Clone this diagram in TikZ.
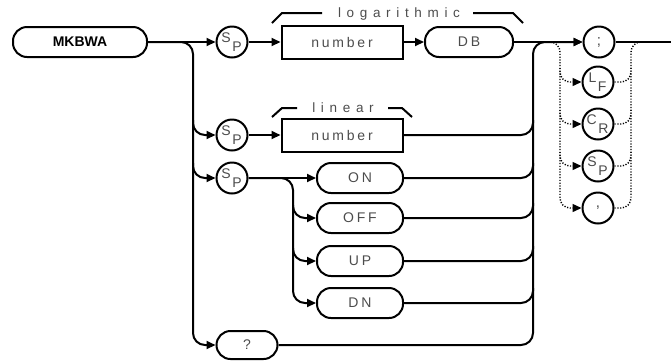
\documentclass[tikz,border=0pt]{standalone}
\usepackage{fontspec}
\setmainfont{Liberation Sans}
\newfontfamily\boxfont[LetterSpace=20]{Liberation Sans}
\newfontfamily\tagfont[LetterSpace=42]{Liberation Sans}
\usepackage{tikz}
\usetikzlibrary{arrows.meta}

\newcommand{\twoletter}[2]{\kern-1pt\raisebox{4pt}{#1}\kern1.5pt\raisebox{-5pt}{#2}}

\begin{document}
\begin{tikzpicture}[
        x=1pt, y=-1pt,
        line width=2pt,
        keyword/.style={
          draw,
          rounded corners=14pt,
          minimum height=30pt,
          inner sep=0pt,
          font=\boxfont\fontsize{14}{16}\selectfont,
          text=black!70
        },
        param/.style={
          draw,
          minimum width=121pt,
          minimum height=33pt,
          inner sep=0pt,
          font=\boxfont\fontsize{14}{16}\selectfont,
          text=black!70
        },
        sepchar/.style={
          draw,
          circle,
          minimum size=31pt,
          inner sep=0pt,
          font=\fontsize{14}{14}\selectfont,
          text=black!70
        },
        flow/.style={-{Triangle[length=9pt,width=8pt]}},
        branch/.style={rounded corners=12pt},
        loop/.style={line width=1.4pt, dash pattern=on 1.2pt off 1.6pt, rounded corners=10pt},
        tag/.style={font=\tagfont\fontsize{13.5}{15}\selectfont, text=black!70}
      ]
        \useasboundingbox (0,0) rectangle (671,360);

        \node[keyword, minimum width=134pt, text=black,
              font=\bfseries\fontsize{14}{17}\selectfont] (mkbwa) at (80,42) {MKBWA};

        % logarithmic path
        \node[sepchar] (splog) at (232,42) {\twoletter{S}{P}};
        \node[param] (numlog) at (342,42) {number};
        \node[keyword, minimum width=88pt] (db) at (469,42) {DB};

        % linear path
        \node[sepchar] (splin) at (232,135) {\twoletter{S}{P}};
        \node[param] (numlin) at (342,135) {number};

        % state path
        \node[sepchar] (spstate) at (232,178) {\twoletter{S}{P}};
        \node[keyword, minimum width=86pt] (on) at (360,178) {ON};
        \node[keyword, minimum width=86pt] (off) at (360,218) {OFF};
        \node[keyword, minimum width=86pt] (up) at (360,261) {UP};
        \node[keyword, minimum width=86pt] (dn) at (360,303) {DN};

        % query
        \node[keyword, minimum width=61pt, minimum height=28pt] (query) at (247,345) {?};

        % terminators
        \node[sepchar, font=\fontsize{15}{15}\selectfont] (semi) at (599,42) {;};
        \node[sepchar] (lf) at (598,82) {\twoletter{L}{F}};
        \node[sepchar] (cr) at (598,124) {\twoletter{C}{R}};
        \node[sepchar] (spterm) at (598,166) {\twoletter{S}{P}};
        \node[sepchar, font=\fontsize{15}{15}\selectfont] (comma) at (598,208) {,};

        % labels over the number fields
        \node[tag] (logtag) at (399,14) {logarithmic};
        \draw (272,23) -- (282,13) -- (322,13);
        \draw (473,13) -- (513,13) -- (523,23);
        \node[tag] (lintag) at (343,108) {linear};
        \draw (272,117) -- (282,108) -- (297,108);
        \draw (388,108) -- (402,108) -- (412,117);

        % main line
        \draw[flow] (mkbwa.east) -- (splog.west);
        \draw[flow] (splog.east) -- (numlog.west);
        \draw[flow] (numlog.east) -- (db.west);
        \draw[flow] (db.east) -- (semi.west);
        \draw (semi.east) -- (671,42);

        % left fork
        \draw[flow, branch] (mkbwa.east) -- (193,42) -- (193,345) -- (query.west);
        \draw[flow, branch] (193,120) -- (193,135) -- (splin.west);
        \draw[flow, branch] (193,163) -- (193,178) -- (spstate.west);
        \draw[flow] (splin.east) -- (numlin.west);
        \draw[flow] (spstate.east) -- (on.west);

        % state fork
        \draw[flow, branch] (spstate.east) -- (293,178) -- (293,303) -- (dn.west);
        \draw[flow, branch] (293,205) -- (293,218) -- (off.west);
        \draw[flow, branch] (293,248) -- (293,261) -- (up.west);

        % right collector
        \draw[flow, branch] (query.east) -- (533,345) -- (533,42) -- (semi.west);
        \draw[branch] (numlin.east) -- (533,135) -- (533,120);
        \draw[branch] (on.east) -- (533,178) -- (533,163);
        \draw[branch] (off.east) -- (533,218) -- (533,203);
        \draw[branch] (up.east) -- (533,261) -- (533,246);
        \draw[branch] (dn.east) -- (533,303) -- (533,288);

        % optional terminators
        \draw[flow, loop] (545,42) -- (560,42) -- (560,208) -- (comma.west);
        \draw[flow, loop] (560,68) -- (560,82) -- (lf.west);
        \draw[flow, loop] (560,110) -- (560,124) -- (cr.west);
        \draw[flow, loop] (560,152) -- (560,166) -- (spterm.west);
        \draw[loop] (comma.east) -- (631,208) -- (631,42) -- (646,42);
        \draw[loop] (lf.east) -- (631,82) -- (631,68);
        \draw[loop] (cr.east) -- (631,124) -- (631,110);
        \draw[loop] (spterm.east) -- (631,166) -- (631,152);
      \end{tikzpicture}
\end{document}
